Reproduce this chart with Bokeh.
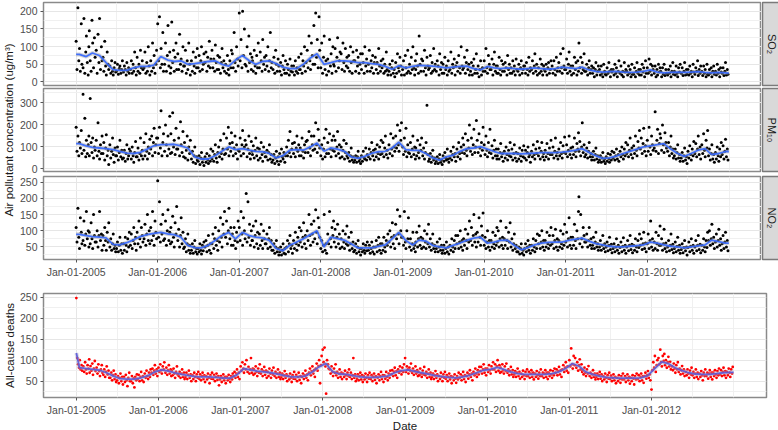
import numpy as np
import pandas as pd
from bokeh.plotting import figure
from bokeh.layouts import column, row
from bokeh.models import Range1d, FixedTicker, DatetimeTickFormatter
from bokeh.core.properties import value
from bokeh.embed import file_html
from bokeh.resources import INLINE

FONT = "Liberation Sans"

# ---------------- data ----------------
sample_days = [1, 5, 9, 13, 16, 20, 24, 27]          # days of month sampled
tick_years = [2005, 2006, 2007, 2008, 2009, 2010, 2011, 2012]
strip_labels = ["SO₂", "PM₁₀", "NO₂"]

so2 = [
    [115, 35, 210, 60, 95, 30, 165, 50], [40, 180, 25, 85, 130, 55, 20, 100], [145, 60, 30, 175, 110, 40, 125, 70],
    [90, 25, 135, 55, 180, 35, 100, 60], [70, 30, 115, 45, 20, 85, 50, 35], [45, 25, 60, 30, 20, 40, 55, 28],
    [30, 50, 22, 38, 45, 25, 35, 60], [28, 45, 35, 20, 55, 30, 40, 25], [35, 60, 25, 50, 30, 85, 40, 20],
    [70, 30, 50, 25, 90, 40, 60, 35], [40, 85, 25, 55, 30, 100, 45, 20], [60, 30, 110, 40, 75, 25, 50, 90],
    [165, 60, 185, 40, 95, 50, 140, 30], [50, 110, 30, 75, 160, 45, 85, 25], [40, 170, 55, 90, 30, 70, 110, 35],
    [80, 35, 135, 50, 65, 30, 100, 45], [45, 90, 25, 60, 35, 110, 50, 20], [60, 30, 85, 45, 25, 70, 40, 95],
    [40, 75, 30, 60, 100, 35, 50, 80], [55, 85, 30, 70, 45, 115, 40, 65], [90, 40, 65, 30, 105, 55, 35, 75],
    [35, 70, 25, 55, 95, 40, 60, 30], [50, 25, 75, 35, 20, 60, 40, 90], [80, 40, 140, 55, 30, 100, 65, 45],
    [195, 60, 120, 40, 200, 75, 150, 50], [45, 100, 30, 130, 55, 80, 35, 70], [60, 30, 90, 45, 25, 75, 40, 110],
    [40, 85, 60, 30, 120, 50, 70, 35], [75, 45, 100, 30, 60, 140, 40, 55], [35, 70, 25, 90, 50, 30, 65, 45],
    [30, 55, 20, 45, 75, 35, 25, 60], [25, 50, 35, 20, 65, 30, 45, 28], [45, 20, 60, 30, 40, 25, 70, 35],
    [35, 80, 25, 60, 45, 100, 30, 55], [90, 40, 130, 60, 35, 110, 75, 50], [160, 50, 195, 70, 120, 40, 185, 90],
    [40, 110, 25, 70, 130, 35, 60, 20], [65, 30, 120, 45, 80, 25, 100, 50], [45, 95, 30, 70, 125, 40, 60, 85],
    [80, 35, 110, 55, 30, 95, 45, 70], [40, 75, 30, 100, 55, 25, 85, 60], [60, 30, 90, 45, 70, 25, 50, 80],
    [35, 80, 55, 25, 100, 45, 65, 30], [50, 90, 30, 60, 40, 75, 25, 55], [70, 35, 55, 25, 95, 45, 30, 60],
    [40, 65, 25, 50, 30, 85, 35, 20], [30, 50, 20, 40, 60, 25, 35, 15], [55, 25, 80, 40, 30, 70, 45, 20],
    [35, 60, 20, 75, 40, 25, 90, 30], [50, 25, 70, 35, 100, 40, 20, 60], [35, 80, 45, 25, 130, 50, 30, 65],
    [60, 30, 90, 40, 20, 70, 45, 35], [40, 75, 25, 55, 30, 95, 35, 50], [30, 60, 45, 20, 80, 35, 55, 25],
    [50, 25, 70, 35, 45, 20, 60, 30], [35, 85, 25, 50, 40, 65, 20, 45], [55, 30, 75, 40, 25, 100, 45, 35],
    [40, 70, 25, 55, 90, 35, 50, 20], [30, 55, 20, 45, 65, 25, 35, 80], [25, 45, 15, 35, 60, 20, 40, 30],
    [60, 30, 95, 40, 25, 75, 50, 35], [35, 65, 20, 50, 85, 30, 45, 25], [45, 25, 70, 35, 20, 60, 30, 50],
    [30, 55, 40, 20, 75, 35, 50, 25], [40, 25, 60, 30, 45, 20, 65, 35], [30, 50, 20, 40, 60, 25, 35, 45],
    [45, 25, 55, 35, 20, 70, 30, 40], [35, 60, 25, 45, 80, 30, 50, 20], [40, 25, 65, 30, 50, 20, 45, 35],
    [30, 50, 20, 40, 55, 25, 35, 60], [45, 25, 60, 35, 20, 70, 30, 40], [55, 30, 80, 40, 25, 95, 45, 35],
    [35, 65, 25, 50, 85, 30, 45, 20], [45, 25, 70, 35, 55, 20, 60, 30], [110, 40, 70, 25, 55, 35, 80, 30],
    [30, 50, 20, 40, 60, 25, 35, 45], [25, 40, 15, 35, 55, 20, 30, 45], [35, 20, 45, 25, 15, 50, 30, 22],
    [20, 40, 25, 55, 30, 15, 35, 28], [35, 20, 50, 25, 40, 15, 30, 60], [25, 45, 20, 30, 15, 55, 28, 35],
    [30, 20, 45, 25, 35, 15, 50, 22], [22, 40, 15, 30, 55, 25, 35, 20], [35, 20, 50, 28, 40, 15, 60, 25],
    [40, 25, 65, 30, 50, 20, 45, 35], [25, 45, 15, 35, 20, 50, 28, 40], [30, 15, 40, 22, 50, 18, 35, 25],
    [20, 35, 25, 45, 15, 30, 55, 22], [30, 20, 45, 25, 15, 40, 28, 50], [25, 40, 18, 30, 55, 20, 35, 22],
    [35, 20, 45, 25, 30, 15, 50, 28], [22, 40, 30, 60, 18, 35, 25, 45], [30, 18, 45, 25, 35, 15, 50, 22],
    [20, 35, 25, 40, 15, 30, 45, 22], [30, 20, 50, 25, 35, 15, 40, 28], [25, 40, 18, 30, 55, 20, 35, 22],
]

pm10 = [
    [190, 80, 150, 60, 120, 95, 175, 70], [340, 85, 230, 55, 130, 70, 110, 150], [60, 320, 120, 75, 140, 50, 100, 85],
    [130, 60, 210, 80, 45, 110, 70, 150], [70, 120, 40, 95, 155, 60, 85, 20], [110, 50, 80, 140, 65, 30, 95, 60],
    [60, 100, 40, 75, 130, 55, 85, 45], [50, 85, 35, 70, 110, 45, 60, 90], [80, 45, 100, 60, 30, 75, 125, 55],
    [55, 95, 40, 70, 140, 60, 85, 45], [120, 60, 160, 80, 45, 100, 70, 135], [90, 150, 60, 120, 185, 75, 110, 140],
    [140, 70, 190, 95, 265, 60, 120, 160], [80, 200, 110, 60, 150, 90, 240, 70], [160, 75, 255, 100, 130, 65, 185, 90],
    [90, 140, 60, 215, 110, 75, 170, 55], [120, 50, 85, 150, 40, 100, 70, 130], [45, 80, 30, 60, 100, 25, 55, 40],
    [35, 60, 20, 50, 75, 30, 45, 15], [55, 30, 70, 40, 25, 60, 35, 90], [45, 80, 35, 65, 110, 50, 30, 75],
    [100, 55, 130, 70, 45, 90, 160, 65], [70, 140, 90, 190, 60, 115, 80, 165], [120, 60, 95, 150, 70, 110, 45, 85],
    [80, 140, 60, 110, 175, 70, 100, 130], [110, 55, 90, 150, 70, 45, 125, 80], [65, 105, 50, 85, 140, 60, 95, 40],
    [90, 50, 120, 65, 35, 100, 75, 55], [55, 85, 40, 75, 110, 45, 65, 30], [40, 65, 25, 50, 80, 35, 55, 20],
    [70, 35, 90, 55, 45, 75, 30, 60], [100, 60, 130, 75, 170, 55, 90, 115], [70, 120, 55, 95, 150, 80, 110, 60],
    [95, 60, 140, 80, 50, 110, 75, 125], [130, 75, 170, 95, 60, 150, 110, 85], [150, 90, 210, 110, 75, 180, 130, 95],
    [60, 110, 45, 90, 140, 55, 180, 70], [120, 70, 160, 90, 55, 130, 85, 150], [80, 130, 60, 100, 170, 70, 110, 50],
    [100, 55, 85, 130, 45, 75, 115, 60], [50, 75, 35, 60, 95, 40, 55, 30], [40, 60, 30, 55, 80, 35, 45, 25],
    [60, 35, 80, 50, 45, 95, 40, 65], [55, 90, 45, 75, 120, 60, 85, 40], [90, 55, 110, 70, 45, 100, 65, 130],
    [70, 120, 55, 95, 150, 65, 85, 50], [110, 70, 160, 90, 60, 140, 100, 80], [150, 95, 200, 110, 80, 175, 130, 210],
    [100, 65, 140, 80, 185, 55, 110, 75], [70, 120, 55, 90, 150, 65, 100, 45], [95, 60, 130, 75, 50, 110, 85, 140],
    [60, 95, 45, 75, 120, 290, 65, 35], [45, 70, 30, 55, 85, 40, 50, 25], [35, 55, 25, 45, 65, 30, 40, 20],
    [60, 35, 75, 50, 40, 90, 45, 30], [50, 80, 40, 65, 100, 55, 70, 35], [90, 55, 120, 70, 45, 100, 75, 140],
    [110, 70, 160, 85, 60, 130, 95, 200], [80, 140, 65, 110, 180, 75, 100, 220], [130, 75, 160, 95, 60, 120, 85, 190],
    [110, 65, 150, 85, 55, 120, 75, 180], [70, 105, 50, 85, 130, 60, 90, 45], [60, 90, 45, 75, 115, 55, 70, 35],
    [80, 50, 100, 65, 40, 85, 60, 120], [55, 90, 40, 70, 110, 50, 75, 35], [70, 45, 95, 60, 35, 85, 55, 105],
    [50, 85, 40, 75, 100, 55, 65, 30], [80, 55, 110, 65, 45, 90, 70, 125], [60, 95, 45, 80, 120, 55, 70, 40],
    [85, 55, 115, 70, 45, 95, 65, 130], [65, 100, 50, 80, 140, 60, 75, 45], [90, 60, 120, 70, 50, 105, 75, 145],
    [70, 110, 55, 85, 150, 65, 95, 50], [100, 65, 140, 80, 55, 115, 90, 165], [80, 125, 60, 100, 210, 75, 110, 55],
    [65, 95, 50, 80, 120, 55, 70, 40], [55, 80, 40, 65, 95, 45, 60, 30], [40, 60, 30, 50, 75, 35, 45, 25],
    [55, 35, 70, 45, 30, 65, 40, 80], [50, 75, 40, 60, 90, 45, 65, 35], [80, 55, 100, 65, 45, 90, 60, 120],
    [70, 110, 55, 85, 140, 65, 95, 50], [105, 70, 150, 85, 60, 125, 95, 175], [90, 140, 70, 115, 185, 80, 105, 60],
    [130, 80, 190, 100, 65, 150, 110, 85], [95, 260, 80, 130, 180, 70, 115, 160], [140, 85, 200, 110, 75, 165, 120, 95],
    [80, 120, 60, 100, 150, 70, 90, 50], [60, 90, 45, 75, 110, 50, 65, 35], [50, 75, 35, 60, 95, 40, 55, 25],
    [80, 50, 105, 65, 40, 90, 60, 125], [70, 115, 55, 90, 150, 65, 100, 45], [110, 70, 160, 85, 55, 130, 95, 175],
    [60, 90, 40, 70, 110, 45, 65, 30], [75, 45, 100, 60, 35, 90, 55, 120], [65, 105, 45, 80, 135, 55, 90, 40],
]

no2 = [
    [110, 65, 170, 80, 45, 140, 95, 60], [70, 130, 55, 90, 160, 75, 100, 50], [95, 60, 125, 75, 45, 150, 85, 65],
    [65, 100, 50, 85, 160, 70, 90, 40], [85, 55, 110, 70, 40, 95, 65, 125], [50, 75, 40, 60, 90, 45, 55, 35],
    [45, 65, 35, 55, 80, 40, 60, 30], [60, 40, 80, 55, 35, 75, 50, 95], [55, 90, 45, 70, 110, 60, 80, 40],
    [95, 60, 130, 75, 50, 110, 85, 65], [75, 120, 55, 90, 150, 70, 100, 60], [110, 70, 160, 85, 55, 130, 95, 75],
    [255, 80, 190, 65, 120, 90, 150, 70], [75, 130, 55, 100, 165, 70, 95, 60], [110, 65, 145, 80, 50, 125, 90, 175],
    [70, 105, 50, 85, 140, 60, 95, 45], [50, 75, 35, 60, 90, 40, 55, 30], [40, 60, 30, 50, 70, 35, 45, 28],
    [45, 35, 60, 40, 28, 55, 38, 65], [50, 70, 35, 55, 85, 40, 60, 30], [60, 90, 45, 75, 110, 55, 70, 40],
    [100, 65, 140, 80, 50, 120, 90, 160], [80, 130, 60, 100, 170, 75, 110, 55], [90, 55, 110, 70, 45, 95, 65, 130],
    [110, 70, 160, 90, 55, 140, 100, 75], [215, 65, 190, 80, 120, 55, 100, 70], [70, 115, 50, 85, 130, 60, 95, 45],
    [90, 55, 120, 70, 45, 100, 75, 60], [60, 90, 45, 75, 110, 50, 70, 40], [40, 60, 30, 50, 70, 35, 45, 25],
    [35, 50, 25, 40, 60, 30, 45, 28], [50, 70, 35, 60, 85, 45, 55, 30], [70, 45, 95, 60, 40, 80, 55, 110],
    [65, 100, 50, 80, 125, 60, 85, 45], [100, 70, 150, 85, 55, 120, 90, 65], [130, 75, 165, 95, 60, 140, 110, 80],
    [45, 70, 35, 55, 150, 40, 60, 30], [90, 60, 160, 75, 50, 110, 85, 130], [65, 105, 50, 80, 120, 60, 90, 45],
    [75, 50, 100, 65, 45, 90, 60, 115], [55, 80, 40, 60, 95, 45, 65, 35], [40, 60, 30, 50, 70, 35, 45, 25],
    [45, 35, 60, 40, 30, 55, 38, 65], [40, 55, 30, 45, 65, 35, 50, 28], [50, 70, 35, 55, 80, 40, 60, 30],
    [60, 40, 80, 50, 35, 70, 55, 90], [65, 100, 50, 80, 125, 60, 85, 45], [120, 75, 165, 90, 60, 145, 100, 80],
    [80, 55, 160, 65, 45, 100, 75, 140], [50, 75, 40, 60, 95, 45, 55, 35], [65, 95, 50, 75, 115, 55, 80, 45],
    [75, 50, 100, 65, 45, 90, 60, 120], [50, 75, 40, 60, 90, 45, 55, 35], [45, 65, 35, 50, 75, 40, 55, 30],
    [40, 55, 30, 45, 65, 35, 50, 28], [55, 40, 75, 50, 35, 70, 45, 85], [60, 85, 45, 65, 100, 50, 70, 40],
    [75, 55, 105, 70, 45, 90, 65, 130], [70, 110, 55, 85, 150, 65, 90, 50], [95, 65, 140, 80, 55, 115, 85, 155],
    [55, 80, 45, 65, 100, 50, 70, 40], [70, 50, 95, 60, 45, 85, 55, 110], [65, 100, 50, 75, 130, 55, 80, 45],
    [75, 55, 110, 70, 45, 95, 65, 125], [50, 75, 40, 60, 90, 45, 55, 35], [35, 50, 28, 45, 60, 30, 40, 25],
    [45, 60, 35, 50, 70, 40, 55, 30], [55, 40, 75, 50, 35, 70, 45, 90], [60, 85, 45, 65, 100, 50, 70, 40],
    [70, 50, 95, 60, 45, 85, 55, 110], [60, 85, 45, 70, 105, 50, 75, 40], [70, 50, 100, 60, 45, 90, 55, 120],
    [65, 95, 50, 75, 140, 55, 80, 45], [80, 55, 120, 70, 45, 100, 75, 160], [205, 60, 150, 75, 50, 110, 85, 65],
    [65, 90, 50, 70, 110, 55, 75, 45], [55, 80, 45, 65, 95, 50, 60, 40], [50, 70, 40, 55, 85, 45, 60, 35],
    [50, 65, 38, 55, 80, 42, 58, 32], [45, 60, 35, 50, 75, 40, 55, 30], [48, 65, 35, 52, 78, 40, 55, 30],
    [50, 70, 38, 55, 85, 42, 58, 32], [55, 40, 75, 50, 35, 70, 48, 90], [55, 75, 42, 60, 95, 45, 62, 35],
    [60, 90, 45, 70, 130, 50, 75, 40], [65, 45, 95, 60, 40, 85, 55, 115], [55, 75, 40, 60, 105, 45, 62, 35],
    [50, 70, 38, 55, 90, 42, 58, 32], [45, 65, 35, 52, 80, 40, 55, 30], [42, 60, 32, 48, 70, 38, 50, 25],
    [48, 65, 35, 52, 75, 40, 55, 30], [50, 70, 38, 55, 85, 42, 58, 32], [55, 40, 75, 50, 35, 70, 48, 95],
    [70, 100, 55, 75, 120, 60, 80, 45], [65, 90, 50, 70, 105, 55, 75, 40], [60, 85, 45, 65, 95, 50, 70, 38],
]

deaths = [
    [248, 105, 90, 82, 100, 78, 88, 75], [85, 72, 95, 78, 68, 88, 80, 102], [70, 86, 75, 92, 65, 80, 98, 74],
    [82, 68, 90, 74, 62, 78, 88, 70], [65, 78, 60, 72, 85, 66, 75, 58], [58, 70, 52, 64, 75, 55, 66, 48],
    [52, 62, 45, 58, 68, 50, 60, 42], [60, 48, 65, 52, 38, 58, 70, 50], [50, 62, 45, 57, 35, 60, 52, 66],
    [55, 65, 50, 60, 72, 52, 62, 48], [68, 58, 75, 62, 55, 70, 60, 78], [70, 80, 65, 75, 88, 68, 78, 62],
    [82, 72, 90, 76, 68, 85, 78, 95], [70, 82, 65, 76, 88, 68, 78, 62], [75, 64, 80, 68, 58, 72, 85, 66],
    [62, 72, 58, 68, 78, 60, 70, 55], [60, 70, 55, 65, 75, 58, 66, 50], [64, 55, 70, 60, 50, 66, 58, 72],
    [56, 66, 52, 62, 70, 55, 64, 48], [62, 54, 68, 58, 45, 64, 56, 70], [55, 65, 50, 60, 68, 53, 62, 40],
    [54, 62, 48, 58, 66, 52, 60, 45], [60, 52, 65, 56, 48, 62, 54, 68], [62, 72, 58, 68, 78, 60, 70, 55],
    [85, 75, 95, 80, 70, 90, 78, 100], [72, 84, 68, 78, 105, 70, 80, 65], [78, 68, 85, 72, 62, 80, 70, 90],
    [68, 78, 62, 74, 84, 65, 75, 58], [72, 62, 80, 68, 58, 75, 66, 82], [62, 72, 58, 68, 78, 60, 70, 55],
    [60, 68, 55, 64, 74, 58, 66, 50], [62, 54, 68, 58, 48, 64, 56, 72], [55, 65, 50, 60, 70, 53, 62, 45],
    [60, 68, 55, 64, 75, 58, 66, 52], [70, 80, 64, 74, 85, 68, 76, 60], [80, 92, 75, 86, 100, 45, 88, 110],
    [125, 95, 130, 85, 20, 100, 90, 80], [78, 68, 85, 72, 62, 80, 70, 90], [64, 72, 58, 68, 78, 60, 70, 55],
    [68, 60, 75, 64, 55, 70, 62, 78], [60, 70, 55, 64, 105, 58, 66, 50], [56, 66, 52, 62, 70, 54, 64, 48],
    [62, 54, 68, 58, 48, 64, 56, 70], [55, 64, 50, 60, 68, 53, 62, 45], [58, 66, 52, 62, 72, 55, 64, 48],
    [64, 56, 72, 60, 52, 68, 58, 75], [66, 76, 62, 72, 82, 64, 74, 58], [78, 70, 85, 74, 66, 82, 72, 90],
    [105, 72, 85, 78, 68, 82, 75, 92], [70, 80, 65, 74, 85, 68, 76, 62], [72, 64, 80, 68, 60, 75, 66, 84],
    [64, 72, 58, 68, 78, 60, 70, 55], [60, 68, 55, 64, 74, 58, 66, 50], [62, 55, 70, 60, 50, 66, 58, 72],
    [56, 64, 50, 60, 68, 54, 62, 45], [60, 52, 66, 56, 46, 62, 54, 70], [58, 66, 52, 62, 72, 55, 64, 48],
    [62, 70, 56, 66, 76, 60, 68, 52], [72, 64, 80, 68, 60, 76, 66, 84], [74, 84, 68, 78, 90, 70, 80, 64],
    [80, 72, 88, 76, 68, 85, 78, 95], [78, 90, 72, 85, 100, 75, 88, 70], [82, 72, 90, 76, 68, 85, 74, 92],
    [70, 78, 64, 74, 84, 66, 76, 60], [66, 74, 60, 70, 80, 62, 72, 56], [68, 60, 75, 64, 55, 72, 62, 78],
    [62, 72, 58, 68, 76, 60, 70, 54], [68, 60, 74, 64, 56, 70, 62, 78], [62, 70, 58, 68, 76, 60, 70, 55],
    [70, 62, 76, 66, 58, 74, 64, 80], [70, 78, 64, 74, 84, 66, 76, 60], [78, 88, 72, 82, 95, 75, 85, 70],
    [100, 85, 128, 90, 80, 110, 88, 105], [82, 95, 75, 88, 102, 78, 90, 72], [75, 66, 82, 70, 62, 78, 68, 86],
    [62, 70, 58, 66, 76, 60, 68, 54], [60, 68, 55, 64, 72, 56, 66, 50], [62, 54, 68, 58, 48, 64, 56, 70],
    [55, 63, 50, 58, 66, 52, 60, 45], [58, 50, 64, 55, 46, 62, 54, 68], [54, 62, 48, 58, 66, 52, 60, 44],
    [58, 50, 64, 56, 42, 62, 54, 68], [55, 64, 50, 60, 68, 52, 62, 46], [62, 70, 56, 64, 74, 58, 66, 52],
    [30, 76, 95, 82, 110, 72, 88, 100], [105, 90, 125, 95, 85, 110, 98, 115], [88, 100, 82, 95, 108, 85, 96, 78],
    [85, 76, 92, 80, 70, 88, 78, 95], [72, 80, 66, 76, 86, 68, 78, 62], [72, 64, 78, 68, 58, 75, 66, 82],
    [64, 72, 58, 68, 78, 60, 70, 55], [68, 60, 74, 64, 52, 70, 62, 78], [62, 70, 56, 68, 76, 60, 70, 54],
    [70, 62, 76, 66, 58, 74, 64, 80], [66, 76, 62, 72, 82, 64, 74, 58], [72, 64, 80, 70, 60, 78, 68, 84],
]

# smooth curves: value at 1 Jan 2005, one value per month (mid-month), value at 31 Dec 2012
so2_trend = [78,
    78, 72, 82, 75, 55, 35, 33, 33, 40, 44, 44, 48,
    72, 62, 58, 60, 50, 52, 55, 58, 60, 50, 45, 62,
    75, 60, 50, 58, 60, 52, 42, 38, 38, 50, 68, 80,
    50, 55, 60, 60, 58, 55, 55, 52, 50, 44, 36, 46,
    40, 44, 47, 46, 45, 43, 40, 42, 44, 45, 38, 34,
    44, 40, 38, 40, 38, 36, 38, 40, 38, 36, 38, 42,
    40, 38, 42, 34, 30, 28, 29, 30, 28, 27, 28, 30,
    34, 28, 26, 27, 28, 27, 28, 29, 27, 26, 27, 26,
    25]
pm10_trend = [115,
    115, 105, 98, 95, 92, 88, 80, 72, 70, 75, 90, 105,
    110, 110, 112, 105, 95, 55, 45, 45, 60, 80, 100, 88,
    92, 85, 80, 78, 70, 50, 60, 85, 88, 85, 100, 118,
    80, 95, 90, 80, 55, 48, 57, 70, 78, 80, 95, 122,
    88, 84, 84, 70, 50, 40, 55, 62, 80, 92, 95, 101,
    90, 79, 70, 70, 70, 68, 70, 72, 74, 74, 74, 76,
    80, 85, 92, 75, 60, 48, 50, 58, 70, 80, 90, 100,
    105, 110, 115, 90, 70, 57, 70, 85, 92, 65, 70, 79,
    79]
no2_trend = [89,
    89, 85, 82, 80, 78, 58, 56, 63, 72, 82, 88, 92,
    95, 90, 88, 80, 55, 48, 47, 55, 70, 85, 95, 75,
    95, 85, 80, 78, 70, 45, 38, 55, 65, 75, 88, 100,
    50, 80, 76, 71, 60, 47, 47, 47, 52, 56, 75, 95,
    70, 56, 71, 68, 55, 50, 47, 55, 62, 70, 77, 80,
    62, 65, 70, 71, 55, 41, 48, 56, 62, 64, 65, 65,
    70, 74, 77, 68, 60, 56, 52, 50, 50, 52, 54, 56,
    65, 62, 56, 52, 50, 47, 50, 53, 56, 71, 66, 62,
    62]
deaths_trend = [117,
    82, 80, 78, 76, 70, 62, 56, 55, 55, 58, 63, 72,
    77, 74, 70, 66, 63, 61, 60, 60, 59, 57, 57, 65,
    80, 77, 74, 72, 70, 67, 63, 60, 60, 62, 72, 84,
    92, 72, 67, 66, 63, 60, 59, 59, 60, 62, 70, 75,
    77, 73, 70, 67, 63, 61, 59, 58, 60, 64, 70, 76,
    78, 83, 78, 72, 68, 66, 66, 66, 66, 68, 72, 80,
    92, 85, 72, 66, 62, 59, 58, 57, 57, 57, 58, 63,
    80, 96, 92, 82, 75, 70, 67, 66, 66, 68, 70, 71,
    71]

# ---------------- helpers ----------------
months = pd.date_range("2005-01-01", periods=96, freq="MS")
trend_dates = ([pd.Timestamp("2005-01-01")] + [m + pd.Timedelta(days=14) for m in months]
               + [pd.Timestamp("2012-12-31")])


def expand(monthly):
    xs, ys = [], []
    for m, vals in zip(months, monthly):
        for d, v in zip(sample_days, vals):
            xs.append(m + pd.Timedelta(days=d - 1))
            ys.append(v)
    return xs, ys


def ms(ts):
    return pd.Timestamp(ts).value / 1e6


X0, X1 = pd.Timestamp("2004-08-08"), pd.Timestamp("2013-05-26")
x_major = [ms(f"{y}-01-01") for y in tick_years]
x_minor = [ms(f"{y}-07-01") for y in [2004] + tick_years] + [ms("2013-01-01")]
FMT = "%b-%d-%Y"


def make_panel(monthly, trend, yrange, yticks, yminor, fw, fh, bl, br, bt, bb,
               show_x, pt_color, pt_size, ln_color, band_color, ylabel=None, xlabel=None):
    p = figure(frame_width=fw, frame_height=fh, x_axis_type="datetime",
               x_range=Range1d(X0, X1), y_range=Range1d(*yrange),
               output_backend="svg", toolbar_location=None,
               min_border_left=bl, min_border_right=br, min_border_top=bt, min_border_bottom=bb)
    p.xaxis.ticker = FixedTicker(ticks=x_major, minor_ticks=x_minor)
    p.xaxis.formatter = DatetimeTickFormatter(days=FMT, months=FMT, years=FMT)
    p.yaxis.ticker = FixedTicker(ticks=yticks, minor_ticks=yminor)
    for ax in p.axis:
        ax.axis_line_color = None
        ax.major_tick_line_color = "#555555"
        ax.major_tick_out = 3
        ax.major_tick_in = 0
        ax.minor_tick_line_color = None
        ax.major_label_text_font = FONT
        ax.major_label_text_font_size = "10.5px"
        ax.major_label_text_color = "#4D4D4D"
        ax.major_label_text_line_height = 1.0
        ax.major_label_standoff = 2
        ax.axis_label_text_font = FONT
        ax.axis_label_text_font_size = "11.5px"
        ax.axis_label_text_font_style = "normal"
        ax.axis_label_text_color = "#1A1A1A"
        ax.axis_label_text_line_height = 1.0
        ax.axis_label_standoff = 1
    p.xaxis.visible = show_x
    if ylabel:
        p.yaxis.axis_label = ylabel
    if xlabel:
        p.xaxis.axis_label = xlabel
        p.xaxis.major_label_standoff = 2
        p.xaxis.axis_label_standoff = 1
    p.grid.grid_line_color = "#E6E6E6"
    p.grid.grid_line_width = 1
    p.grid.minor_grid_line_color = "#F0F0F0"
    p.grid.minor_grid_line_width = 1
    p.outline_line_color = "#8A8A8A"
    p.outline_line_width = 1.5
    xs, ys = expand(monthly)
    p.scatter(xs, ys, size=pt_size, fill_color=pt_color, line_color=None)
    p.line(trend_dates, trend, line_color=band_color, line_width=4, line_alpha=0.4)
    p.line(trend_dates, trend, line_color=ln_color, line_width=1.8, line_alpha=0.9)
    return p


def make_strip(label, fh, bt, bb):
    s = figure(frame_width=18, frame_height=fh, x_range=Range1d(0, 1), y_range=Range1d(0, 1),
               output_backend="svg", toolbar_location=None,
               x_axis_location=None, y_axis_location=None,
               min_border_left=1, min_border_right=0, min_border_top=bt, min_border_bottom=bb)
    s.grid.visible = False
    s.background_fill_color = "#D9D9D9"
    s.outline_line_color = "#7A7A7A"
    s.outline_line_width = 1.5
    s.text(x=[0.5], y=[0.5], text=[label], angle=-np.pi / 2, text_align="center",
           text_baseline="middle", text_font=value(FONT), text_font_size="11px",
           text_color="#1A1A1A")
    return s


FW, FH = 718, 83
f1 = make_panel(so2, so2_trend, (-10, 225), [0, 50, 100, 150, 200], [25, 75, 125, 175],
                FW, FH, 24, 0, 2, 2, False, "black", 3.0, "#3366FF", "#9A9A9A")
f2 = make_panel(pm10, pm10_trend, (-12, 366), [0, 100, 200, 300], [50, 150, 250, 350],
                FW, FH, 24, 0, 1, 4, False, "black", 3.0, "#3366FF", "#9A9A9A")
f3 = make_panel(no2, no2_trend, (11, 268), [50, 100, 150, 200, 250], [25, 75, 125, 175, 225],
                FW, FH, 24, 0, 1, 20, True, "black", 3.0, "#3366FF", "#9A9A9A")
s1 = make_strip(strip_labels[0], FH, 2, 2)
s2 = make_strip(strip_labels[1], FH, 1, 4)
s3 = make_strip(strip_labels[2], FH, 1, 20)

lab = figure(frame_width=16, frame_height=3 * FH + 10, x_range=Range1d(0, 1), y_range=Range1d(0, 1),
             output_backend="svg", toolbar_location=None,
             x_axis_location=None, y_axis_location=None,
             min_border_left=0, min_border_right=0, min_border_top=0, min_border_bottom=20)
lab.grid.visible = False
lab.outline_line_color = None
lab.text(x=[0.56], y=[0.5], text=["Air pollutant concentration (ug/m³)"], angle=np.pi / 2,
         text_align="center", text_baseline="middle", text_font=value(FONT),
         text_font_size="11.5px", text_color="#1A1A1A")

f4 = make_panel(deaths, deaths_trend, (11, 259), [50, 100, 150, 200, 250], [25, 75, 125, 175, 225],
                723, 104, 38, 14, 13, 29, True, "#FF0000", 2.8, "#5A5AD8", "#A8A8C8",
                ylabel="All-cause deaths", xlabel="Date")

layout = column(row(lab, column(row(f1, s1), row(f2, s2), row(f3, s3))), f4)

with open("out.html", "w") as fh:
    fh.write(file_html(layout, INLINE))
